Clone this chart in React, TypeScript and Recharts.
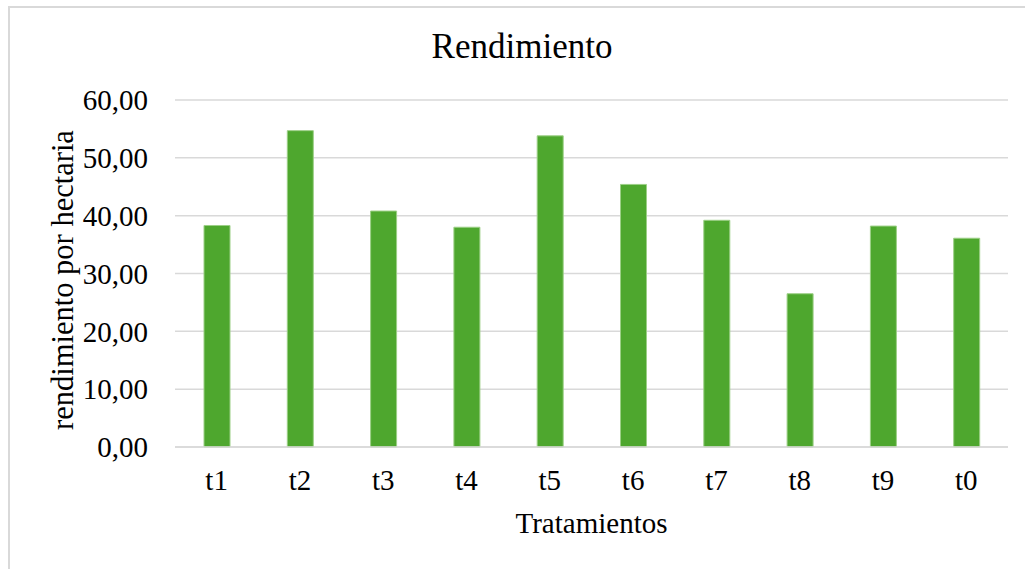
import { BarChart, Bar, XAxis, YAxis, CartesianGrid } from 'recharts';

const categories = ['t1', 't2', 't3', 't4', 't5', 't6', 't7', 't8', 't9', 't0'];
const rendimiento = [38.3, 54.7, 40.8, 38.0, 53.8, 45.4, 39.2, 26.5, 38.2, 36.1];
const yTicks = [0, 10, 20, 30, 40, 50, 60];

const data = categories.map((c, i) => ({ name: c, value: rendimiento[i] }));

const font = '"Liberation Serif", "Times New Roman", serif';

function fmt(v: number) {
  return v.toFixed(2).replace('.', ',');
}

// y axis title, rotated, baseline on the right side
function YTitle() {
  const cx = 65;
  const cy = 274;
  return (
    <text
      x={cx}
      y={cy}
      transform={`rotate(-90, ${cx}, ${cy})`}
      textAnchor="middle"
      fill="#000"
      fontSize={30.5}
      fontFamily={font}
    >
      rendimiento por hectaria
    </text>
  );
}

export default function App() {
  return (
    <div
      style={{
        position: 'fixed',
        left: 8,
        top: 6,
        width: 1017,
        height: 563,
        borderTop: '2px solid #d9d9d9',
        borderLeft: '2px solid #d9d9d9',
        boxSizing: 'border-box',
        background: '#fff',
        fontFamily: font,
      }}
    >
      <div
        style={{
          position: 'absolute',
          left: 0,
          width: 1024,
          top: 19,
          textAlign: 'center',
          fontSize: 35,
          color: '#000',
        }}
      >
        Rendimiento
      </div>
      <BarChart
        width={1017}
        height={563}
        data={data}
        margin={{ top: 94, right: 17, left: 0, bottom: 0 }}
        style={{ position: 'absolute', left: -2, top: -2 }}
      >
        <CartesianGrid vertical={false} stroke="#d9d9d9" strokeWidth={1.5} />
        <XAxis
          dataKey="name"
          height={122}
          axisLine={{ stroke: '#d9d9d9', strokeWidth: 1.5 }}
          tickLine={false}
          tickMargin={16}
          tick={{ fill: '#000', fontSize: 29, fontFamily: font }}
          label={{ value: 'Tratamientos', position: 'insideBottom', offset: 36, fill: '#000', fontSize: 29, fontFamily: font }}
        />
        <YAxis
          width={167}
          domain={[0, 60]}
          ticks={yTicks}
          tickFormatter={fmt}
          axisLine={false}
          tickLine={false}
          tickMargin={21}
          tick={{ fill: '#000', fontSize: 29, fontFamily: font }}
          label={{ content: () => <YTitle /> }}
        />
        <Bar dataKey="value" fill="#4ea72e" stroke="#9ccf86" strokeWidth={1} barSize={26} isAnimationActive={false} />
      </BarChart>
    </div>
  );
}
